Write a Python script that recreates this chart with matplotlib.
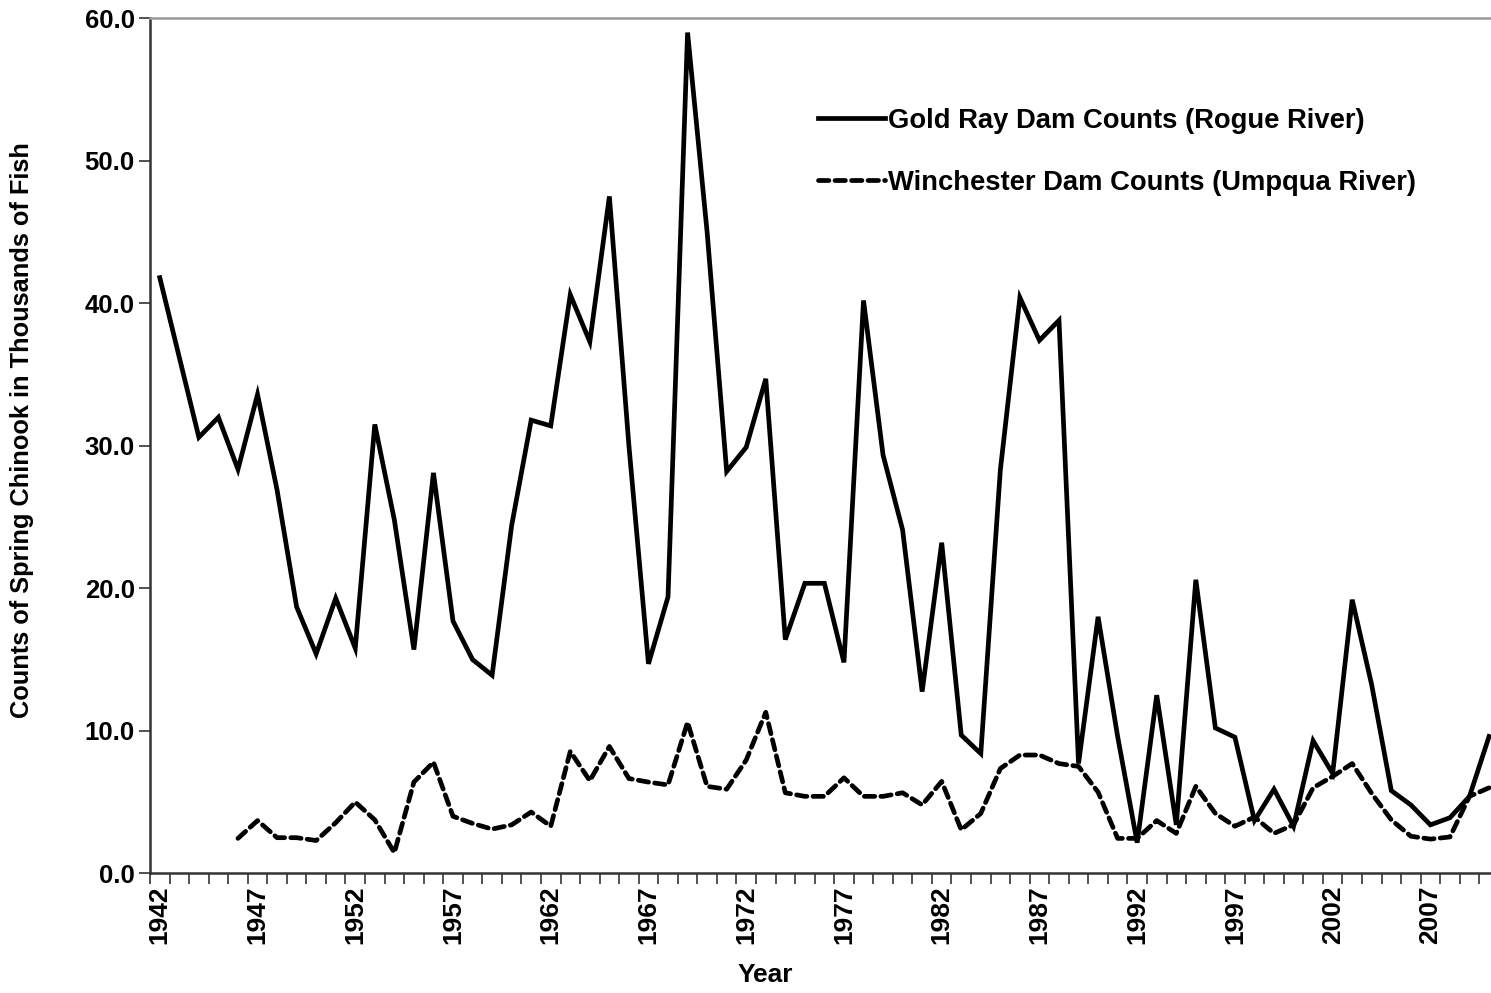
import numpy as np
import matplotlib
matplotlib.use("Agg")
import matplotlib.pyplot as plt
from matplotlib.ticker import FixedLocator, FormatStrFormatter

years = list(range(1942, 2011))
gold_ray = [41.8, 36.2, 30.6, 32.0, 28.35, 33.6, 26.9, 18.7, 15.4, 19.3,
            15.8, 31.5, 24.8, 15.7, 28.1, 17.7, 15.0, 13.9, 24.4, 31.8,
            31.4, 40.6, 37.3, 47.5, 30.0, 14.7, 19.4, 59.0, 45.0, 28.2,
            29.9, 34.7, 16.4, 20.35, 20.35, 14.8, 40.2, 29.35, 24.1, 12.75,
            23.2, 9.7, 8.4, 28.3, 40.4, 37.4, 38.8, 7.7, 18.0, 9.6,
            2.15, 12.5, 3.4, 20.6, 10.2, 9.55, 3.7, 5.9, 3.3, 9.3,
            7.0, 19.2, 13.2, 5.8, 4.8, 3.4, 3.9, 5.4, 9.6]
winchester_years = list(range(1946, 2011))
winchester = [2.45, 3.7, 2.5, 2.5, 2.3, 3.55, 5.0, 3.75, 1.45, 6.4,
              7.8, 4.0, 3.5, 3.1, 3.4, 4.3, 3.3, 8.55, 6.5, 8.9,
              6.65, 6.4, 6.2, 10.6, 6.1, 5.9, 7.95, 11.3, 5.65, 5.4,
              5.4, 6.7, 5.4, 5.4, 5.65, 4.8, 6.45, 3.05, 4.2, 7.35,
              8.3, 8.3, 7.7, 7.5, 5.7, 2.45, 2.45, 3.7, 2.8, 6.1,
              4.2, 3.3, 3.95, 2.8, 3.4, 6.0, 6.8, 7.7, 5.6, 3.75,
              2.6, 2.4, 2.55, 5.4, 6.0]
tick_years = list(range(1942, 2011, 5))
y_ticks = [0, 10, 20, 30, 40, 50, 60]

label_gold = "Gold Ray Dam Counts (Rogue River)"
label_win = "Winchester Dam Counts (Umpqua River)"

plt.rcParams['font.family'] = ['Liberation Sans', 'DejaVu Sans']
plt.rcParams['font.weight'] = 'bold'

W, H = 1491, 993
x0, x1 = 150, 1491
y_top, y_bot = 18.3, 873.3
fig = plt.figure(figsize=(W / 100, H / 100), dpi=100)
ax = fig.add_axes([x0 / W, 1 - y_bot / H, (x1 - x0) / W, (y_bot - y_top) / H])

ax.plot(years, gold_ray, color='black', lw=3.4, solid_joinstyle='miter',
        label=label_gold)
ax.plot(winchester_years, winchester, color='black', lw=3.4,
        linestyle=(0, (2.2, 1.3)), dash_capstyle='round', label=label_win)

ax.set_xlim(1941.5, 2010.1)
ax.set_ylim(0, 60)

ax.xaxis.set_major_locator(FixedLocator(tick_years))
ax.set_xticklabels([str(y) for y in tick_years], rotation=90, fontsize=19,
                   fontweight='bold')
ax.xaxis.set_minor_locator(FixedLocator(np.arange(1941.5, 2011, 1.0)))
ax.tick_params(axis='x', which='major', length=0, pad=9)
ax.tick_params(axis='x', which='minor', length=8, width=1.2, color='#333333')

ax.set_yticks(y_ticks)
ax.yaxis.set_major_formatter(FormatStrFormatter('%.1f'))
ax.tick_params(axis='y', which='major', length=8, width=1.2, color='#333333',
               labelsize=18.5, pad=3)
for lab in ax.get_yticklabels():
    lab.set_fontweight('bold')

for s in ['left', 'bottom']:
    ax.spines[s].set_color('#333333')
    ax.spines[s].set_linewidth(1.8)
ax.spines['top'].set_color('#999999')
ax.spines['top'].set_linewidth(1.8)
ax.spines['right'].set_visible(False)

ax.set_xlabel('Year', fontsize=19, fontweight='bold')
ax.xaxis.set_label_coords((765 - x0) / (x1 - x0), -(975 - y_bot) / (y_bot - y_top))
ax.xaxis.label.set_va('center')
ax.set_ylabel('Counts of Spring Chinook in Thousands of Fish', fontsize=18.3,
              fontweight='bold')
ax.yaxis.set_label_coords(-(x0 - 22) / (x1 - x0), (y_bot - 430) / (y_bot - y_top))
ax.yaxis.label.set_va('center')

leg = ax.legend(loc='upper left',
                bbox_to_anchor=((818 - x0) / (x1 - x0), 1 - (108 - y_top) / (y_bot - y_top)),
                frameon=False, fontsize=19.7, handlelength=2.45, handletextpad=0.1,
                labelspacing=1.31, borderaxespad=0, borderpad=0)
for t in leg.get_texts():
    t.set_fontweight('bold')

fig.savefig('out.png', dpi=100)
